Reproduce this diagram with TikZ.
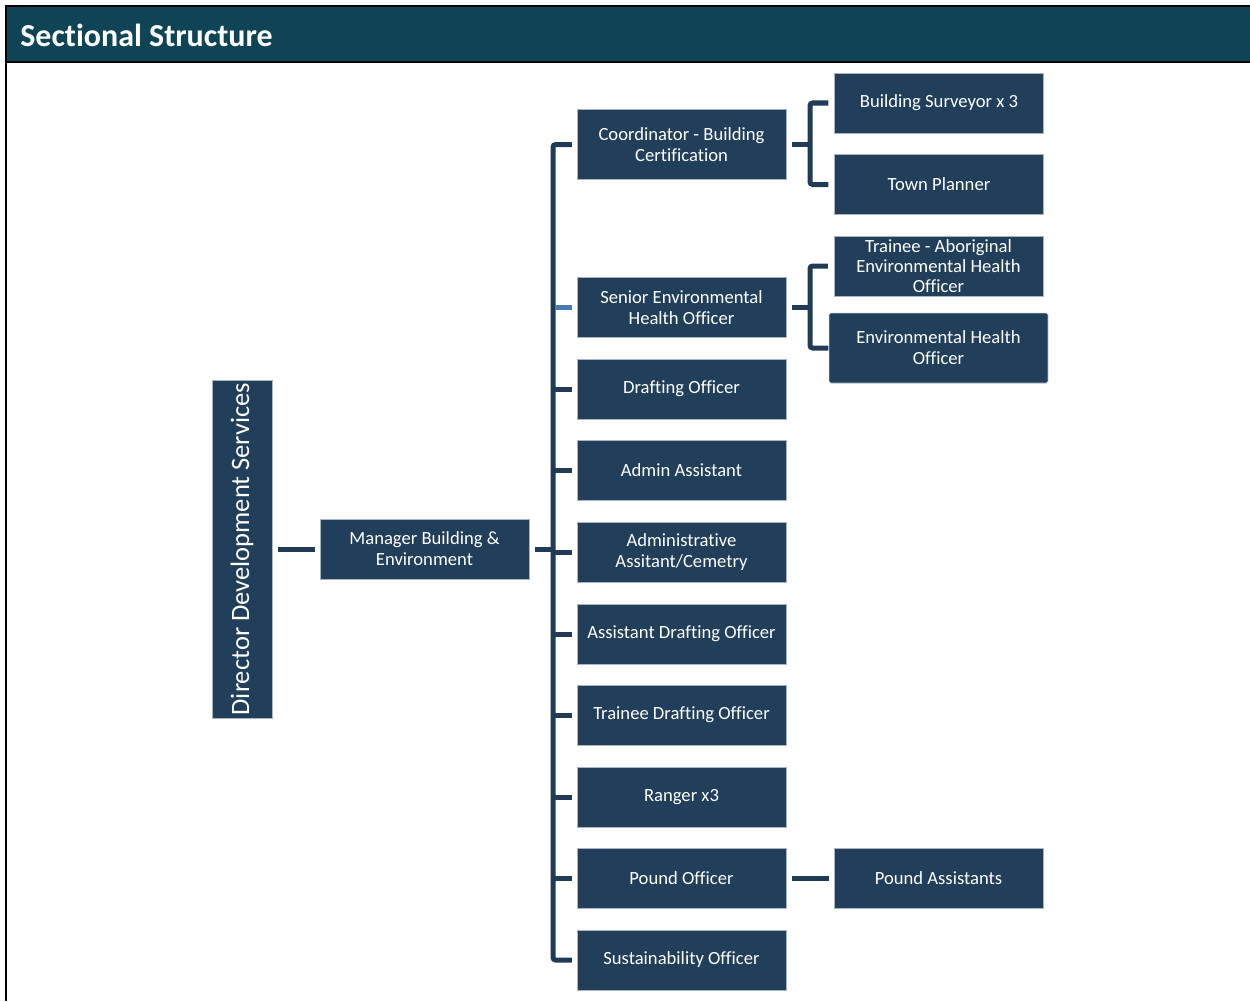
\documentclass[tikz,border=0pt]{standalone}
\usepackage{fontspec}
\setmainfont{Carlito}[Ligatures={NoCommon}]
\definecolor{headcol}{HTML}{0F4457}
\definecolor{boxcol}{HTML}{213F5A}
\definecolor{linecol}{HTML}{1F3B55}
\definecolor{lightline}{HTML}{4A7AB5}
\tikzset{
  orgbox/.style={fill=boxcol, draw={rgb,255:red,170;green,180;blue,192}, line width=0.3pt, text=white, align=center, inner sep=0pt, font=\fontsize{10.6}{12}\selectfont},
  conn/.style={draw=linecol, line width=2.85pt, rounded corners=1.5pt},
}
\begin{document}
\begin{tikzpicture}[x=0.02cm,y=-0.02cm]
\useasboundingbox (0,0) rectangle (1250,1001);
% header
\fill[headcol] (6,6) rectangle (1250,62);
\draw[black, line width=1.7pt] (6,1001) -- (6,6) -- (1250,6);
\draw[black, line width=1.7pt] (6,62) -- (1250,62);
\node[anchor=west, text=white, font=\fontsize{18.2}{21}\selectfont\bfseries, inner sep=0pt] (title) at (20,35) {Sectional Structure};
% left boxes
\node[orgbox, minimum width=1.2cm, minimum height=6.76cm] (dir) at (242,549) {};
\node[text=white, rotate=90, font=\fontsize{15.1}{17}\selectfont, inner sep=0pt] (dirtext) at (242,549) {Director Development Services};
\node[orgbox, minimum width=4.18cm, minimum height=1.2cm] (mgr) at (424.5,549) {Manager Building \&\\Environment};
% middle column
\def\bw{4.18cm}
\node[orgbox, minimum width=\bw, minimum height=1.4cm] (coord) at (681.5,144.5) {Coordinator - Building\\Certification};
\node[orgbox, minimum width=\bw, minimum height=1.2cm] (seho) at (681.5,307.5) {Senior Environmental\\Health Officer};
\node[orgbox, minimum width=\bw, minimum height=1.2cm] (draft) at (681.5,389) {Drafting Officer};
\node[orgbox, minimum width=\bw, minimum height=1.2cm] (admin) at (681.5,470) {Admin Assistant};
\node[orgbox, minimum width=\bw, minimum height=1.2cm] (cem) at (681.5,552) {Administrative\\Assitant/Cemetry};
\node[orgbox, minimum width=\bw, minimum height=1.2cm] (adraft) at (681.5,634) {Assistant Drafting Officer};
\node[orgbox, minimum width=\bw, minimum height=1.2cm] (tdraft) at (681.5,715) {Trainee Drafting Officer};
\node[orgbox, minimum width=\bw, minimum height=1.2cm] (ranger) at (681.5,797) {Ranger x3};
\node[orgbox, minimum width=\bw, minimum height=1.2cm] (pound) at (681.5,878) {Pound Officer};
\node[orgbox, minimum width=\bw, minimum height=1.2cm] (sust) at (681.5,960) {Sustainability Officer};
% right column
\node[orgbox, minimum width=\bw, minimum height=1.2cm] (bsurv) at (939,103) {Building Surveyor x 3};
\node[orgbox, minimum width=\bw, minimum height=1.2cm] (town) at (939,184.5) {Town Planner};
\node[orgbox, minimum width=\bw, minimum height=1.2cm, font=\fontsize{10.6}{11.6}\selectfont] (trainee) at (938.5,266) {Trainee - Aboriginal\\Environmental Health\\Officer};
\node[orgbox, minimum width=4.38cm, minimum height=1.4cm, rounded corners=1pt] (eho) at (938.5,348) {Environmental Health\\Officer};
\node[orgbox, minimum width=\bw, minimum height=1.2cm] (passt) at (938.5,878) {Pound Assistants};
% coordinates for bus
\coordinate (busx) at (553,0);
\coordinate (brx) at (810,0);
% connectors
\draw[conn] ([xshift=0.12cm]dir.east) -- ([xshift=-0.1cm]mgr.west);
\draw[conn] ([xshift=0.12cm]mgr.east) -- (mgr.east -| busx);
\draw[conn] ([xshift=-0.1cm]coord.west) -- (coord.west -| busx) -- (sust.west -| busx) -- ([xshift=-0.1cm]sust.west);
\foreach \n in {draft,admin,cem,adraft,tdraft,ranger,pound}{
  \draw[conn] (\n.west -| busx) -- ([xshift=-0.1cm]\n.west);
}
\draw[draw=lightline, line width=2.85pt] ([xshift=0.05cm]seho.west -| busx) -- ([xshift=-0.1cm]seho.west);
% brackets
\draw[conn] ([xshift=0.12cm]coord.east) -- (coord.east -| brx);
\draw[conn] ([xshift=-0.12cm]bsurv.west) -- (bsurv.west -| brx) -- (town.west -| brx) -- ([xshift=-0.12cm]town.west);
\draw[conn] ([xshift=0.12cm]seho.east) -- (seho.east -| brx);
\draw[conn] ([xshift=-0.12cm]trainee.west) -- (trainee.west -| brx) -- (eho.west -| brx) -- ([xshift=-0.01cm]eho.west);
\draw[conn] ([xshift=0.12cm]pound.east) -- ([xshift=-0.1cm]passt.west);
\end{tikzpicture}
\end{document}
